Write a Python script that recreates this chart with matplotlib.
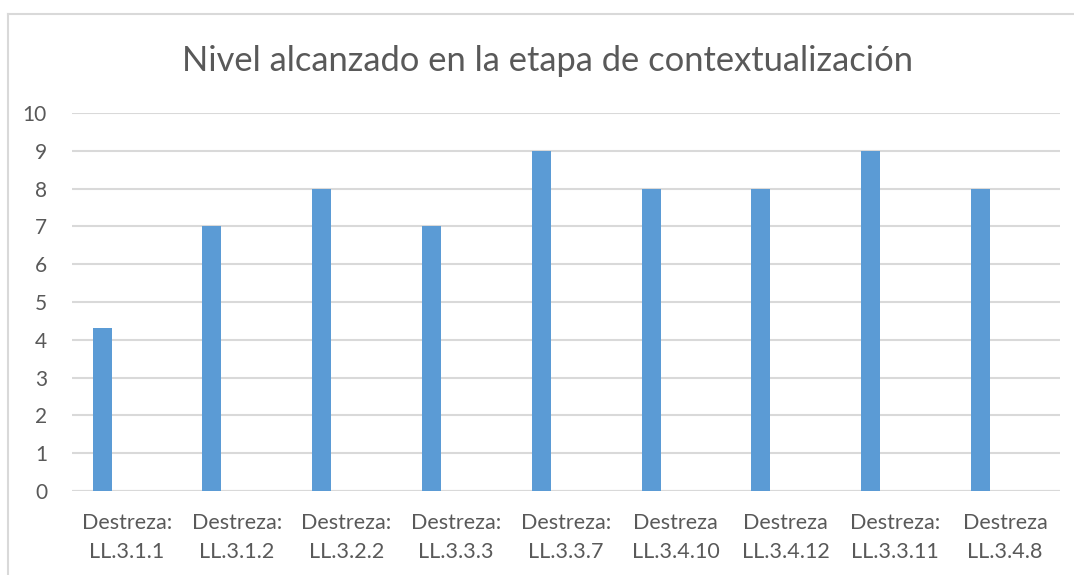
import matplotlib.pyplot as plt
from matplotlib.lines import Line2D
import numpy as np

categories = ["Destreza:\nLL.3.1.1", "Destreza:\nLL.3.1.2", "Destreza:\nLL.3.2.2",
              "Destreza:\nLL.3.3.3", "Destreza:\nLL.3.3.7", "Destreza\nLL.3.4.10",
              "Destreza\nLL.3.4.12", "Destreza:\nLL.3.3.11", "Destreza\nLL.3.4.8"]
values = [4.3, 7, 8, 7, 9, 8, 8, 9, 8]
yticks = list(range(0, 11))

plt.rcParams['font.family'] = ['Lato', 'DejaVu Sans']
text_color = '#595959'
grid_color = '#d9d9d9'

fig = plt.figure(figsize=(10.74, 5.75), dpi=100)
ax = fig.add_axes([72 / 1074, 1 - 491 / 575, (1060 - 72) / 1074, (491 - 113) / 575])

x = np.arange(len(categories))
ax.bar(x - 0.225, values, width=0.173, color='#5b9bd5', zorder=3)

ax.set_xlim(-0.5, len(categories) - 0.5)
ax.set_ylim(0, 10)
ax.set_yticks(yticks)
ax.set_xticks(x)
ax.set_xticklabels(categories, fontsize=15.5, color=text_color, linespacing=1.55)
ax.tick_params(axis='y', labelsize=15, labelcolor=text_color, length=0, pad=18)
ax.tick_params(axis='x', length=0, pad=16)
ax.grid(axis='y', color=grid_color, linewidth=1.5, zorder=0)
for s in ax.spines.values():
    s.set_visible(False)
ax.axhline(0, color=grid_color, linewidth=1.5, zorder=2)

fig.text(548 / 1074, 1 - 61 / 575, "Nivel alcanzado en la etapa de contextualización",
         ha='center', va='center', fontsize=24.8, color=text_color)

# chart area border (only top and left visible)
fig.add_artist(Line2D([8 / 1074, 1], [1 - 14 / 575] * 2, color=grid_color, linewidth=1.5))
fig.add_artist(Line2D([8 / 1074] * 2, [0, 1 - 14 / 575], color=grid_color, linewidth=1.5))

fig.savefig('out.png', dpi=100)
